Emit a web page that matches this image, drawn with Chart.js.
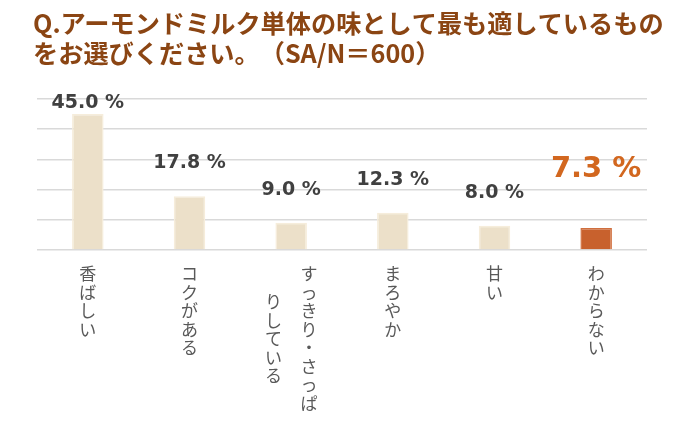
<!DOCTYPE html>
<html>
<head>
<meta charset="utf-8">
<script src="https://cdn.jsdelivr.net/npm/chart.js@4"></script>
<style>
  html, body { margin: 0; padding: 0; background: #fff; }
  #wrap { width: 700px; height: 425px; position: relative; }
</style>
</head>
<body>
<div id="wrap"><canvas id="chart"></canvas></div>
<script>
// each label is a list of vertical columns (right column first)
const categories = [
  ["香ばしい"],
  ["コクがある"],
  ["すっきり・さっぱ", "りしている"],
  ["まろやか"],
  ["甘い"],
  ["わからない"],
];
const values = [45.0, 17.8, 9.0, 12.3, 8.0, 7.3];
const highlight = [false, false, false, false, false, true];
// second line is split so the full-width punctuation keeps its own spacing
const titleLines = [
  ["Q.アーモンドミルク単体の味として最も適しているもの"],
  ["をお選びください。", "（SA/N＝600）"],
];
const yTicks = [0, 10, 20, 30, 40, 50];

const beige = "#ECE0C9";
const orange = "#C8612D";

const titlePlugin = {
  id: "titleText",
  afterDraw(chart) {
    const ctx = chart.ctx;
    ctx.save();
    ctx.fillStyle = "#8B4513";
    ctx.font = "bold 25.2px 'Noto Sans CJK JP'";
    ctx.textAlign = "left";
    ctx.textBaseline = "middle";
    titleLines.forEach((parts, i) => {
      let x = 33;
      parts.forEach(p => {
        ctx.fillText(p, x, 23 + i * 30);
        x += ctx.measureText(p.slice(0, -1)).width + 25.2;
      });
    });
    ctx.restore();
  }
};

const valueLabels = {
  id: "valueLabels",
  afterDatasetsDraw(chart) {
    const ctx = chart.ctx;
    const meta = chart.getDatasetMeta(0);
    ctx.save();
    ctx.textAlign = "center";
    ctx.textBaseline = "middle";
    meta.data.forEach((bar, i) => {
      const big = highlight[i];
      ctx.font = big ? "bold 29px 'DejaVu Sans'" : "bold 19px 'DejaVu Sans'";
      ctx.fillStyle = big ? "#D2671F" : "#404040";
      const y = Math.max(bar.y - (big ? 58 : 33), chart.chartArea.top + 4);
      ctx.fillText(values[i].toFixed(1) + " %", bar.x, y);
    });
    ctx.restore();
  }
};

const verticalLabels = {
  id: "verticalLabels",
  afterDraw(chart) {
    const ctx = chart.ctx;
    const xs = chart.scales.x;
    const pitch = 18.5, colGap = 35.5, top = 274;
    ctx.save();
    ctx.fillStyle = "#595959";
    ctx.font = "17px 'Noto Sans CJK JP'";
    ctx.textAlign = "center";
    ctx.textBaseline = "middle";
    chart.data.labels.forEach((cols, i) => {
      const cx = xs.getPixelForValue(i);
      const longest = Math.max(...cols.map(c => c.length));
      cols.forEach((col, c) => {
        const x = cx + ((cols.length - 1) / 2 - c) * colGap;
        const y0 = top + (longest - col.length) * pitch / 2;
        [...col].forEach((ch, k) => ctx.fillText(ch, x, y0 + k * pitch));
      });
    });
    ctx.restore();
  }
};

new Chart(document.getElementById("chart"), {
  type: "bar",
  data: {
    labels: categories,
    datasets: [{
      data: values,
      backgroundColor: highlight.map(h => h ? orange : beige),
      borderColor: highlight.map(h => h ? "#D06F3E" : "#F6EDDB"),
      borderWidth: 1.5,
      categoryPercentage: 1,
      barPercentage: 0.31,
    }]
  },
  options: {
    responsive: true,
    maintainAspectRatio: false,
    animation: false,
    layout: { padding: { top: 99, left: 37, right: 53, bottom: 175 } },
    plugins: { legend: { display: false }, tooltip: { enabled: false } },
    scales: {
      x: {
        ticks: { display: false },
        grid: { display: false },
        border: { display: false },
        afterFit(s) { s.height = 0; },
      },
      y: {
        min: 0,
        max: 50,
        afterBuildTicks(s) { s.ticks = yTicks.map(v => ({ value: v })); },
        ticks: { display: false },
        grid: { color: "#D9D9D9", lineWidth: 1.5, drawTicks: false },
        border: { display: false },
        afterFit(s) { s.width = 0; },
      }
    }
  },
  plugins: [titlePlugin, valueLabels, verticalLabels]
});
</script>
</body>
</html>
